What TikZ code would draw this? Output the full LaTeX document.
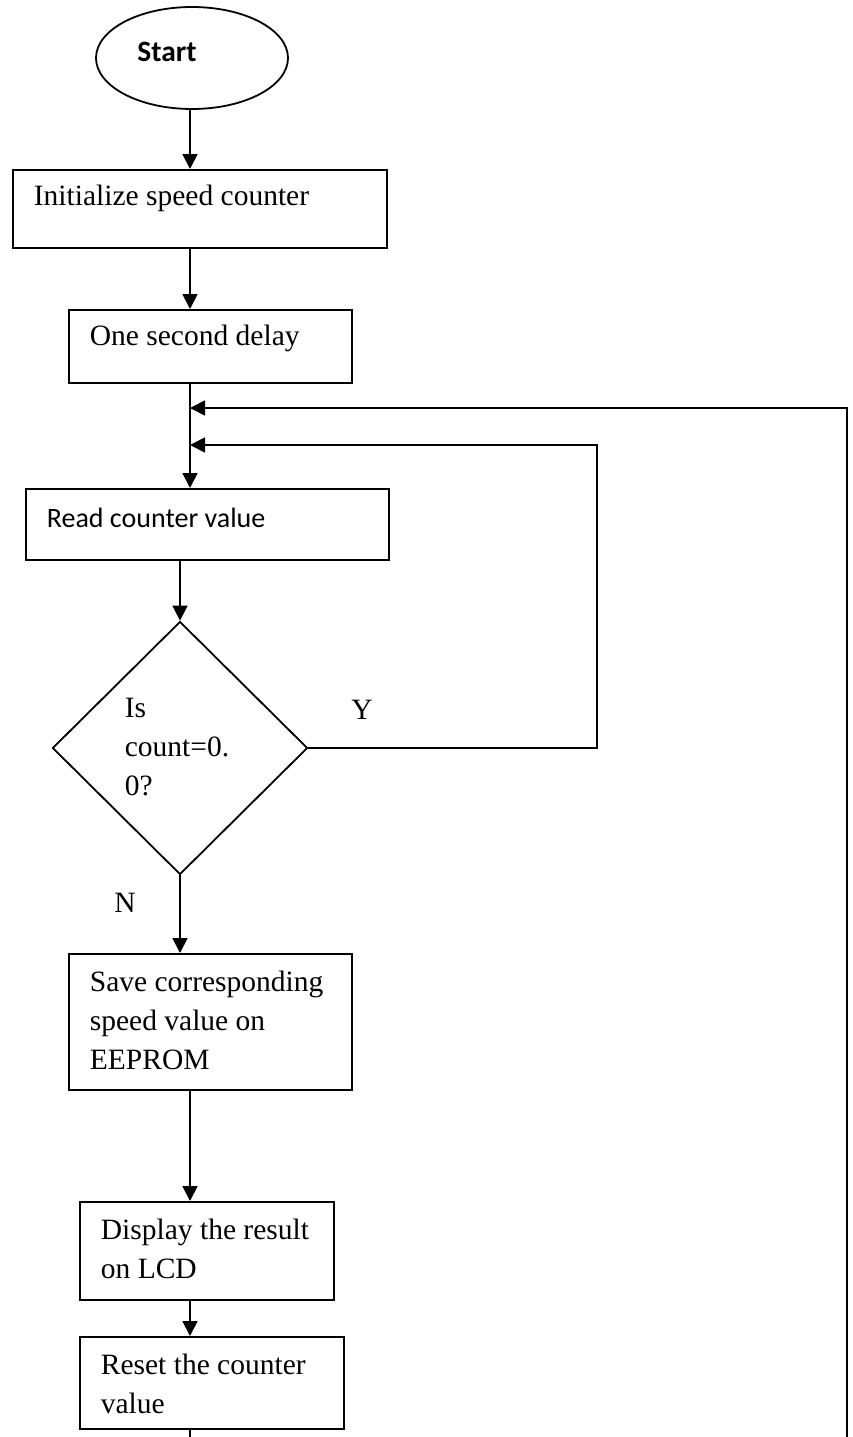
\documentclass[tikz,border=0pt]{standalone}
\usepackage{fontspec}
\setmainfont{Liberation Serif}
\newfontfamily\calibri{Carlito}
\usetikzlibrary{arrows.meta,shapes.geometric}
\begin{document}
\begin{tikzpicture}[x=1pt,y=-1pt, line width=1.8pt,
  box/.style={draw, rectangle, inner sep=0, anchor=north west},
  txt/.style={inner sep=0, anchor=west, align=left, font=\fontsize{29.5}{39}\selectfont},
  arr/.style={-{Triangle[length=15pt,width=15pt]}}]
\useasboundingbox (0,0) rectangle (853,1437);
\clip (0,0) rectangle (853,1437);
\node[draw, ellipse, minimum width=192pt, minimum height=102pt, inner sep=0] (start) at (192,58) {};
\node[inner sep=0, font=\calibri\bfseries\fontsize{29.5}{35}\selectfont] (starttxt) at (167,52) {Start};
\node[box, minimum width=374pt, minimum height=78pt] (init) at (12,169) {};
\node[txt] (initt) at (33,198) {Initialize speed counter};
\node[box, minimum width=283pt, minimum height=73pt] (delay) at (68,309) {};
\node[txt] (delayt) at (89,338) {One second delay};
\node[box, minimum width=363pt, minimum height=71pt] (read) at (25,488) {};
\node[txt, font=\calibri\fontsize{28}{34}\selectfont] (readt) at (46,518) {Read counter value};
\node[draw, diamond, minimum width=255pt, minimum height=253pt, inner sep=0] (dec) at (180,748) {};
\node[txt] (dect) at (124,747) {Is\\count=0.\\0?};
\node[box, minimum width=283pt, minimum height=136pt] (save) at (68,953) {};
\node[txt] (savet) at (89,1020) {Save corresponding\\speed value on\\EEPROM};
\node[box, minimum width=254pt, minimum height=98pt] (disp) at (79,1201) {};
\node[txt] (dispt) at (100,1249) {Display the result\\on LCD};
\node[box, minimum width=264pt, minimum height=92pt] (reset) at (79,1336) {};
\node[txt] (resett) at (100,1384) {Reset the counter\\value};
\node[txt, anchor=center] (ylab) at (362,710) {Y};
\node[txt, anchor=center] (nlab) at (125,903) {N};
\coordinate (x190) at (190,0);
\coordinate (inner) at (597,445);
\coordinate (outer) at (847,408);
\coordinate (bot) at (0,1470);
\draw[arr] (start.south -| x190) -- (init.north -| x190);
\draw[arr] (init.south -| x190) -- (delay.north -| x190);
\draw[arr] (delay.south -| x190) -- (read.north -| x190);
\draw[arr] (read.south -| dec.north) -- (dec.north);
\draw[arr] (dec.south) -- (save.north -| dec.south);
\draw[arr] (save.south -| x190) -- (disp.north -| x190);
\draw[arr] (disp.south -| x190) -- (reset.north -| x190);
\draw[arr] (dec.east) -| (inner) -- (inner -| x190);
\draw[arr] (reset.south -| x190) -- (bot -| x190) -- (bot -| outer) -- (outer) -- (outer -| x190);
\end{tikzpicture}
\end{document}
